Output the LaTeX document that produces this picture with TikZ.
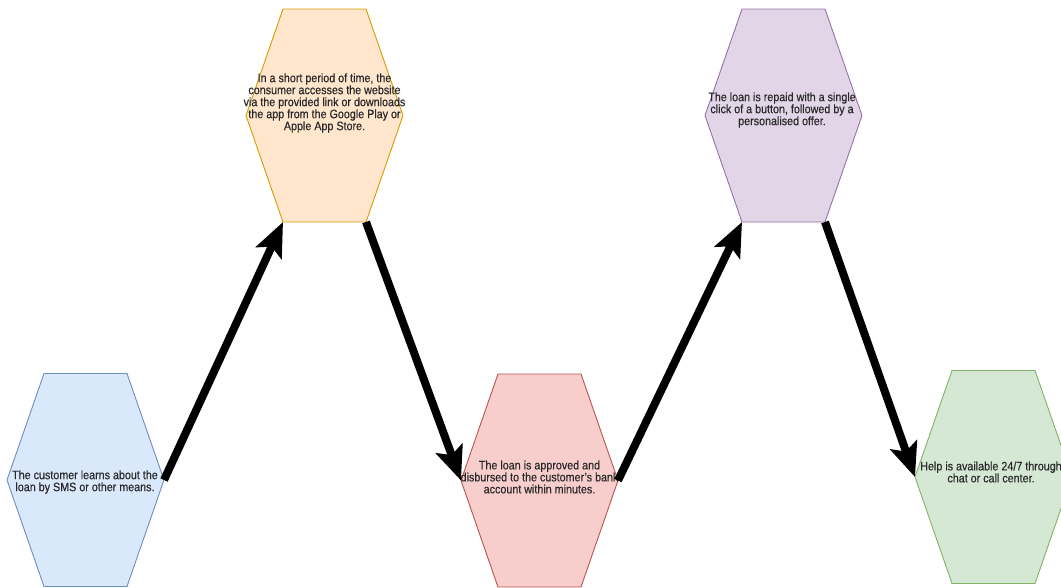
\documentclass[tikz,border=0pt]{standalone}
\usepackage{fontspec}
\setmainfont{Liberation Sans}[FakeStretch=0.88,FakeBold=0.4]
\usetikzlibrary{arrows.meta,calc}
\definecolor{bluef}{HTML}{DAE8FC}\definecolor{blued}{HTML}{6C8EBF}
\definecolor{orangef}{HTML}{FFE6CC}\definecolor{oranged}{HTML}{D79B00}
\definecolor{redf}{HTML}{F8CECC}\definecolor{redd}{HTML}{B85450}
\definecolor{purplef}{HTML}{E1D5E7}\definecolor{purpled}{HTML}{9673A6}
\definecolor{greenf}{HTML}{D5E8D4}\definecolor{greend}{HTML}{82B366}
\definecolor{txt}{HTML}{2A2A2A}
\newcommand{\hexshape}[5]{%
  \begin{scope}[shift={(#2,#3)}]
    \coordinate (#1-l) at (-78.5,0);
    \coordinate (#1-r) at (78.5,0);
    \coordinate (#1-bl) at (-41.5,106.5);
    \coordinate (#1-br) at (41.5,106.5);
    \draw[hexbox, fill=#4, draw=#5] (-41.5,-106.5) -- (41.5,-106.5) -- (78.5,0)
      -- (41.5,106.5) -- (-41.5,106.5) -- (-78.5,0) -- cycle;
  \end{scope}}
\tikzset{
  hexbox/.style={line width=0.9pt, line join=miter},
  label/.style={align=center, text=txt, inner sep=0pt,
    font=\fontsize{12.2}{12}\selectfont},
  arr/.style={line width=8pt, -{Stealth[length=34pt,width=28pt,inset=7pt]}, black}
}
\begin{document}
\begin{tikzpicture}[x=1pt,y=-1pt]
\useasboundingbox (0,0) rectangle (1061,587);
\begin{scope}
\clip (0,0) rectangle (1061,587);
\hexshape{h1}{85.5}{480}{bluef}{blued}
\hexshape{h2}{324.5}{115.5}{orangef}{oranged}
\hexshape{h3}{539.5}{480.5}{redf}{redd}
\hexshape{h4}{783.5}{115.5}{purplef}{purpled}
\hexshape{h5}{993.5}{477}{greenf}{greend}
\end{scope}
\node[label] (t1) at (85,482) {The customer learns about the\\loan by SMS or other means.};
\node[label] (t2) at (324.5,103) {In a short period of time, the\\consumer accesses the website\\via the provided link or downloads\\the app from the Google Play or\\Apple App Store.};
\node[label] (t3) at (539.5,477) {The loan is approved and\\disbursed to the customer's bank\\account within minutes.};
\node[label] (t4) at (782,110) {The loan is repaid with a single\\click of a button, followed by a\\personalised offer.};
\node[label] (t5) at (991,472) {Help is available 24/7 through\\chat or call center.};
\draw[arr] (h1-r) -- (h2-bl);
\draw[arr] (h2-br) -- (h3-l);
\draw[arr] (h3-r) -- (h4-bl);
\draw[arr] (h4-br) -- (h5-l);
\end{tikzpicture}
\end{document}
